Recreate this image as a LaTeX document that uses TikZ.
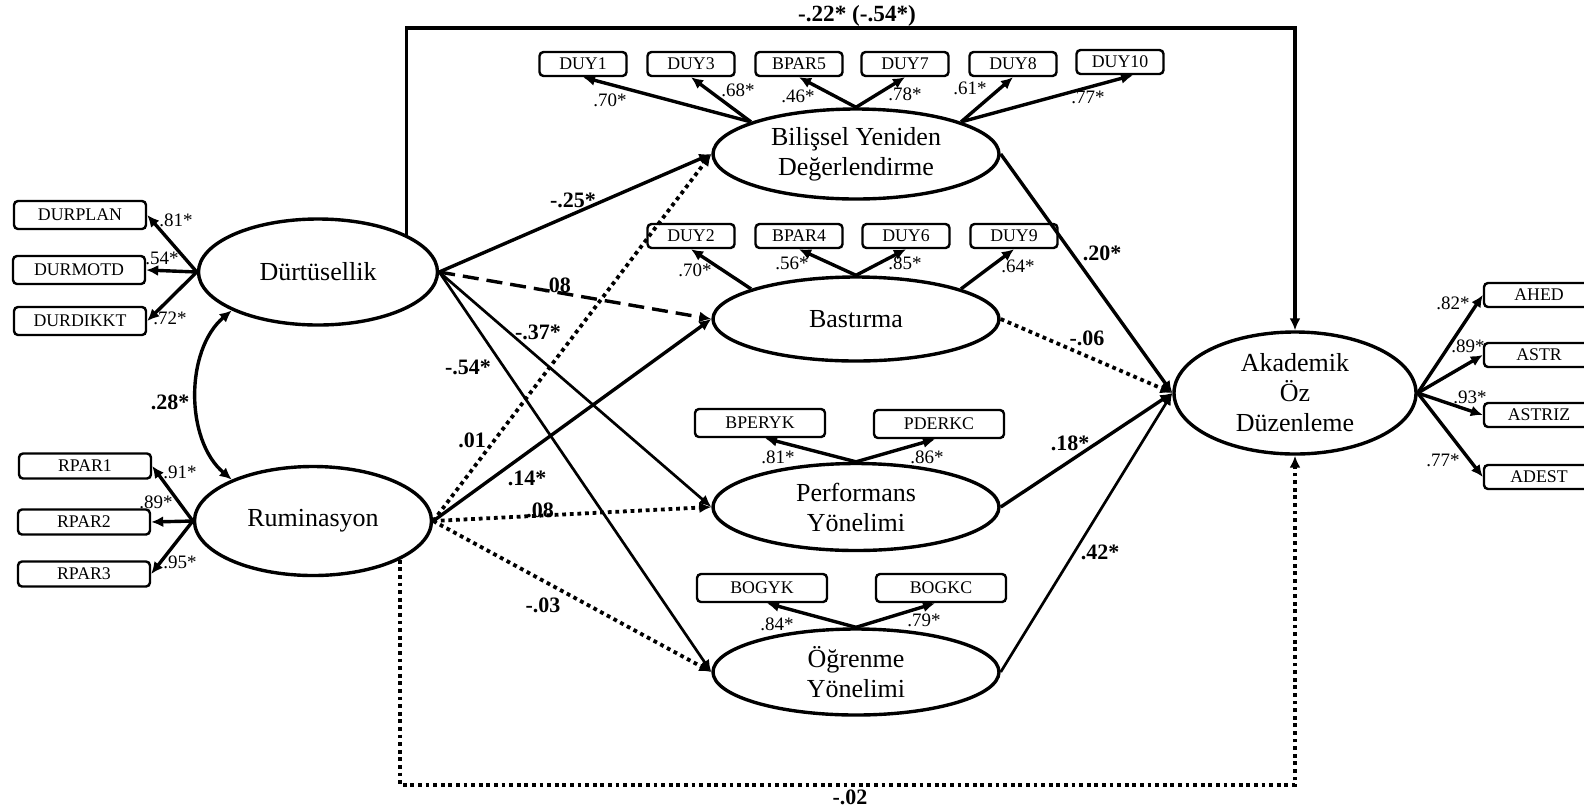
\documentclass[tikz,border=0pt]{standalone}
\usepackage{fontspec}
\setmainfont{Liberation Serif}
\usetikzlibrary{arrows.meta,calc,shapes.geometric}

\begin{document}
\begin{tikzpicture}[x=0.5pt,y=-0.5pt,
  latent/.style={draw,ellipse,line width=1.7pt,inner sep=0pt,align=center,
    font=\fontsize{13}{15}\selectfont},
  ind/.style={draw,rounded corners=2pt,line width=1.2pt,inner sep=0pt,
    minimum width=43.5pt,minimum height=12pt,font=\fontsize{8.9}{10}\selectfont},
  lind/.style={ind,minimum width=66pt,minimum height=14pt},
  rind/.style={ind,minimum width=66pt,minimum height=12.5pt},
  wind/.style={ind,minimum width=65pt,minimum height=14pt},
  aind/.style={ind,minimum width=55pt,minimum height=12pt},
  load/.style={font=\fontsize{9.5}{11}\selectfont,inner sep=0pt},
  coef/.style={font=\bfseries\fontsize{11}{13}\selectfont,inner sep=0pt},
  tip/.style={-{Latex[length=6pt,width=5.5pt]}},
  arr/.style={tip,line width=1.7pt},
  thin arr/.style={tip,line width=1.35pt},
  dots/.style={line width=1.9pt,dash pattern=on 1.9pt off 1.9pt},
  dashes/.style={dash pattern=on 8pt off 4pt},
]
\useasboundingbox (0,0) rectangle (1584,810);

% latent variables
\node[latent,minimum width=119.5pt,minimum height=53pt] (dur) at (318,272) {Dürtüsellik};
\node[latent,minimum width=118.5pt,minimum height=54.5pt] (rum) at (313,521) {Ruminasyon};
\node[latent,minimum width=143pt,minimum height=45pt] (bil) at (856,154) {Bilişsel Yeniden\\Değerlendirme};
\node[latent,minimum width=143pt,minimum height=42pt] (bas) at (856,319) {Bastırma};
\node[latent,minimum width=143pt,minimum height=43.5pt] (perf) at (856,507) {Performans\\Yönelimi};
\node[latent,minimum width=143pt,minimum height=43pt] (ogr) at (856,672) {Öğrenme\\Yönelimi};
\node[latent,minimum width=121pt,minimum height=61pt] (akd) at (1295,393) {Akademik\\Öz\\Düzenleme};

% indicators of Dürtüsellik and Ruminasyon
\node[lind] (durplan) at (80,215) {DURPLAN};
\node[lind] (durmotd) at (79,270) {DURMOTD};
\node[lind] (durdikkt) at (80,321) {DURDIKKT};
\node[rind] (rpar1) at (85,466) {RPAR1};
\node[rind] (rpar2) at (84,522) {RPAR2};
\node[rind] (rpar3) at (84,574) {RPAR3};

% indicators of Bilişsel Yeniden Değerlendirme
\node[ind] (duy1) at (583,64) {DUY1};
\node[ind] (duy3) at (691,64) {DUY3};
\node[ind] (bpar5) at (799,64) {BPAR5};
\node[ind] (duy7) at (905,64) {DUY7};
\node[ind] (duy8) at (1013,64) {DUY8};
\node[ind] (duy10) at (1120,62) {DUY10};

% indicators of Bastırma
\node[ind] (duy2) at (691,236) {DUY2};
\node[ind] (bpar4) at (799,236) {BPAR4};
\node[ind] (duy6) at (906,236) {DUY6};
\node[ind] (duy9) at (1014,236) {DUY9};

% indicators of the goal orientations
\node[wind] (bperyk) at (760,423) {BPERYK};
\node[wind] (pderkc) at (939,424) {PDERKC};
\node[wind] (bogyk) at (762,588) {BOGYK};
\node[wind] (bogkc) at (941,588) {BOGKC};

% indicators of Akademik Öz Düzenleme
\node[aind] (ahed) at (1539,295) {AHED};
\node[aind] (astr) at (1539,355) {ASTR};
\node[aind] (astriz) at (1539,415) {ASTRIZ};
\node[aind] (adest) at (1539,477) {ADEST};

% measurement arrows
\draw[arr] (dur.west) -- (durplan.east);
\draw[arr] (dur.west) -- (durmotd.east);
\draw[arr] (dur.west) -- (durdikkt.east);
\draw[arr] (rum.west) -- (rpar1.east);
\draw[arr] (rum.west) -- (rpar2.east);
\draw[arr] (rum.west) -- (rpar3.east);

\draw[arr] (bil.163) -- (duy1.south);
\draw[arr] (bil.163) -- (duy3.south);
\draw[arr] (bil.north) -- (bpar5.south);
\draw[arr] (bil.north) -- (duy7.south);
\draw[arr] (bil.17) -- (duy8.south);
\draw[arr] (bil.17) -- ($(duy10.south)+(13,0)$);

\draw[arr] (bas.164) -- (duy2.south);
\draw[arr] (bas.north) -- (bpar4.south);
\draw[arr] (bas.north) -- (duy6.south);
\draw[arr] (bas.16) -- (duy9.south);

\draw[arr] (perf.north) -- ($(bperyk.south)+(5,0)$);
\draw[arr] (perf.north) -- ($(pderkc.south)+(-4,0)$);
\draw[arr] (ogr.north) -- ($(bogyk.south)+(5,0)$);
\draw[arr] (ogr.north) -- ($(bogkc.south)+(-6,0)$);

\draw[arr] (akd.east) -- (ahed.west);
\draw[arr] (akd.east) -- (astr.west);
\draw[arr] (akd.east) -- (astriz.west);
\draw[arr] (akd.east) -- (adest.west);

% loadings
\node[load] at (176,220) {.81*};
\node[load] at (162,258) {.54*};
\node[load] at (170,318) {.72*};
\node[load] at (180,472) {.91*};
\node[load] at (156,502) {.89*};
\node[load] at (180,562) {.95*};
\node[load] at (610,100) {.70*};
\node[load] at (738,90) {.68*};
\node[load] at (798,96) {.46*};
\node[load] at (905,94) {.78*};
\node[load] at (970,88) {.61*};
\node[load] at (1088,97) {.77*};
\node[load] at (695,270) {.70*};
\node[load] at (792,263) {.56*};
\node[load] at (905,263) {.85*};
\node[load] at (1018,266) {.64*};
\node[load] at (778,457) {.81*};
\node[load] at (927,457) {.86*};
\node[load] at (777,624) {.84*};
\node[load] at (924,620) {.79*};
\node[load] at (1453,303) {.82*};
\node[load] at (1468,346) {.89*};
\node[load] at (1470,397) {.93*};
\node[load] at (1443,460) {.77*};

% correlation between the predictors
\draw[{Latex[length=6pt,width=5.5pt]}-{Latex[length=6pt,width=5.5pt]},line width=1.7pt]
  (dur.204) .. controls (185,350) and (185,440) .. (rum.153);

% structural paths
\coordinate (topr) at (1295,28);
\coordinate (botr) at (1295,785);
\draw[arr,line join=miter] (dur.23.5) |- (topr) -- (akd.north);
\draw[arr,dots] (rum.-24.6) |- (botr) -- (akd.south);

\draw[arr] (dur.east) -- (bil.west);
\draw[arr,dashes] (dur.east) -- (bas.west);
\draw[thin arr] (dur.east) -- (perf.west);
\draw[thin arr] (dur.east) -- (ogr.west);

\draw[arr,dots] (rum.east) -- (bil.west);
\draw[arr] (rum.east) -- (bas.west);
\draw[arr,dots] (rum.east) -- (perf.west);
\draw[arr,dots] (rum.east) -- (ogr.west);

\draw[arr] (bil.east) -- (akd.west);
\draw[arr,dots] (bas.east) -- (akd.west);
\draw[arr] (perf.east) -- (akd.west);
\draw[thin arr] (ogr.east) -- (akd.west);

% path coefficients
\node[coef,font=\bfseries\fontsize{11.6}{13}\selectfont] at (857,16) {-.22* (-.54*)};
\node[coef] at (170,402) {.28*};
\node[coef] at (573,200) {-.25*};
\node[coef] at (557,285) {.08};
\node[coef] at (538,332) {-.37*};
\node[coef] at (468,367) {-.54*};
\node[coef] at (472,440) {.01};
\node[coef] at (527,478) {.14*};
\node[coef] at (540,510) {.08};
\node[coef] at (543,605) {-.03};
\node[coef] at (1102,253) {.20*};
\node[coef] at (1087,338) {-.06};
\node[coef] at (1070,443) {.18*};
\node[coef] at (1100,552) {.42*};
\node[coef] at (850,797) {-.02};
\end{tikzpicture}
\end{document}
